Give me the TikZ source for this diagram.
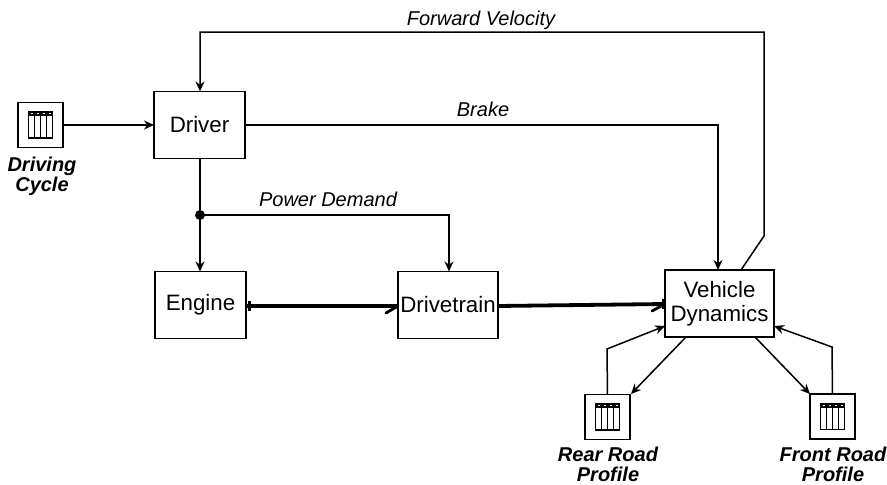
\documentclass[tikz,border=0pt]{standalone}
\usepackage{fontspec}
\setmainfont{Liberation Sans}
\usetikzlibrary{arrows.meta,calc}
\tikzset{
  x=1pt,y=-1pt,
  block/.style={draw=black,line width=1.7pt,fill=white,minimum width=#1,minimum height=67pt,inner sep=0pt,outer sep=0pt,align=center,font=\fontsize{22.3}{23.5}\selectfont},
  iconbox/.style={draw=black,line width=1.7pt,fill=white,minimum width=45pt,minimum height=45pt,inner sep=0pt,outer sep=0pt},
  signal/.style={line width=1.5pt,draw=black,-{Stealth[length=10pt,width=9pt]}},
  plainline/.style={line width=1.5pt,draw=black},
  power/.style={line width=3.8pt,draw=black},
  tick/.style={line width=2.8pt,draw=black,line cap=round},
  capmark/.style={line width=3pt,draw=black},
  sigtext/.style={font=\fontsize{20}{21}\selectfont\itshape,inner sep=0pt},
  srctext/.style={font=\fontsize{20}{20}\selectfont\bfseries\itshape,inner sep=0pt,align=center},
  tableicon/.pic={
    \draw[line width=1.5pt] (-12,-13) rectangle (12,13);
    \fill (-12,-13) rectangle (12,-9);
    \draw[line width=1.3pt] (-6,-13) -- (-6,13) (0,-13) -- (0,13) (6,-13) -- (6,13);
    \draw[white,line width=.6pt] (-10,-11.5) -- (-8,-11.5) (-4,-11.5) -- (-2,-11.5) (2,-11.5) -- (4,-11.5) (8,-11.5) -- (10,-11.5);
  }
}
\begin{document}
\begin{tikzpicture}
\useasboundingbox[fill=white] (0,0) rectangle (887,485);
% blocks
\node[block=91pt] (driver) at (199.5,125) {Driver};
\node[block=91pt] (engine) at (200.5,305) {Engine};
\node[block=100pt] (drivetrain) at (448,305) {Drivetrain};
\node[block=109pt] (vehicle) at (719.5,303.5) {Vehicle\\Dynamics};
% source blocks
\node[iconbox] (cycle) at (40.5,125) {};
\node[iconbox] (rear) at (607.5,417) {};
\node[iconbox] (front) at (832.5,416.5) {};
\pic at (cycle.center) {tableicon};
\pic at (rear.center) {tableicon};
\pic at (front.center) {tableicon};
% labels
\node[srctext] (cyclelabel) at (42,176) {Driving\\Cycle};
\node[srctext] (rearlabel) at (608,464.5) {Rear Road\\Profile};
\node[srctext] (frontlabel) at (833,464) {Front Road\\Profile};
\node[sigtext] (fv) at (481,20) {Forward Velocity};
\node[sigtext] (brake) at (483,109) {Brake};
\node[sigtext] (pd) at (328,199) {Power Demand};
% bend and junction points
\coordinate (dot) at (200,215);
\coordinate (pdcorner) at (449,215);
\coordinate (brakecorner) at (718,125);
\coordinate (fvstart) at (741,270);
\coordinate (fvbend) at (764,236);
\coordinate (fvtopr) at (764,32);
\coordinate (fvtopl) at (200,32);
\coordinate (rearup) at (607,349);
\coordinate (frontup) at (832,347);
\coordinate (vehrearin) at (665,326);
\coordinate (vehfrontin) at (774,326);
\coordinate (vehrearout) at (686,337);
\coordinate (vehfrontout) at (755,337);
\coordinate (rearcorner) at (631,394);
\coordinate (frontcorner) at (810,394);
\coordinate (engout) at (246,306);
\coordinate (dtin) at (398,306);
\coordinate (dtout) at (498,306);
\coordinate (vehin) at (665,304);
% signals
\draw[signal] (cycle.east) -- (driver.west);
\draw[signal] (driver.east) -- (brakecorner) -- (brakecorner |- vehicle.north);
\draw[plainline] (driver.south -| dot) -- (dot);
\draw[signal] (dot) -- (dot |- engine.north);
\fill (dot) circle (5pt);
\draw[signal] (dot) -- (pdcorner) -- (pdcorner |- drivetrain.north);
\draw[signal] (fvstart) -- (fvbend) -- (fvtopr) -- (fvtopl) -- (fvtopl |- driver.north);
\draw[signal] (rear.north) -- (rearup) -- (vehrearin);
\draw[signal] (vehrearout) -- (rearcorner);
\draw[signal] (vehfrontout) -- (frontcorner);
\draw[signal] (front.north) -- (frontup) -- (vehfrontin);
% power connections
\draw[power] (engout) -- (dtin);
\draw[tick] (dtin) -- (386,313);
\draw[capmark] (249,301) -- (249,311);
\draw[power] (dtout) -- (vehin);
\draw[tick] (vehin) -- (652,311);
\draw[capmark] (663,299) -- (663,309);
\end{tikzpicture}
\end{document}
